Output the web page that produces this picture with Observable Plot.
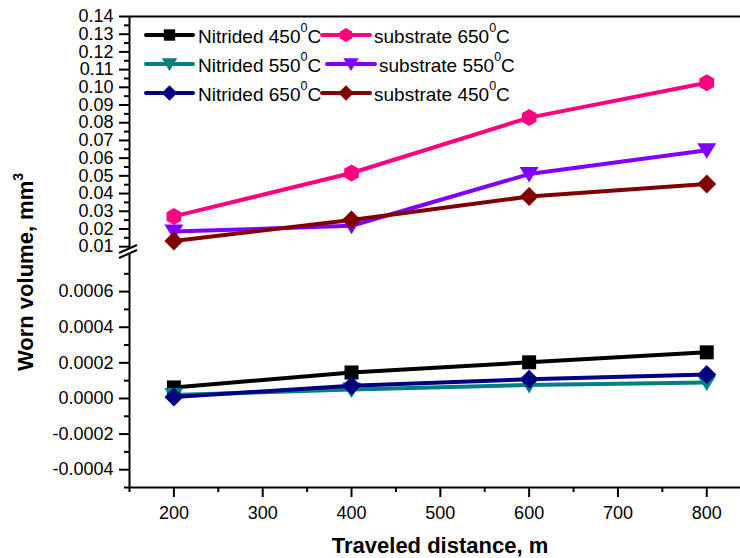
<!DOCTYPE html>
<html><head><meta charset="utf-8">
<script src="https://cdn.jsdelivr.net/npm/d3@7"></script>
<script src="https://cdn.jsdelivr.net/npm/@observablehq/plot@0.6"></script>
<style>
html,body{margin:0;padding:0;background:#fff;}
#chart{position:relative;width:740px;height:558px;overflow:hidden;font-family:"Liberation Sans",Arial,sans-serif;background:#fff;}
#chart svg{position:absolute;left:0;overflow:visible;}
</style></head><body><div id="chart"></div>
<script>
// ---- data ----
const distance = [200, 400, 600, 800];
const nitrided450 = [0.000062, 0.000146, 0.000203, 0.000259];
const nitrided550 = [0.000020, 0.000050, 0.000076, 0.000090];
const nitrided650 = [0.000008, 0.000072, 0.000108, 0.000135];
const substrate650 = [0.0271, 0.0516, 0.0829, 0.1026];
const substrate550 = [0.0185, 0.0218, 0.0510, 0.0645];
const substrate450 = [0.0132, 0.0250, 0.0383, 0.0454];
const seriesNames = ["Nitrided 450", "Nitrided 550", "Nitrided 650", "substrate 650", "substrate 550", "substrate 450"];
const xTicks = [200, 300, 400, 500, 600, 700, 800];
const xMinorTicks = [150, 250, 350, 450, 550, 650, 750];
const yTicksUpper = [0.01, 0.02, 0.03, 0.04, 0.05, 0.06, 0.07, 0.08, 0.09, 0.10, 0.11, 0.12, 0.13, 0.14];
const yMinorUpper = [0.015, 0.025, 0.035, 0.045, 0.055, 0.065, 0.075, 0.085, 0.095, 0.105, 0.115, 0.125, 0.135];
const yTicksLower = [-0.0004, -0.0002, 0, 0.0002, 0.0004, 0.0006];
const yMinorLower = [-0.0005, -0.0003, -0.0001, 0.0001, 0.0003, 0.0005, 0.0007];

// ---- symbols ----
function kOf(size){ return Math.sqrt(size/Math.PI)/8; }
const sym = {
  square: {draw(c,s){const k=kOf(s),h=7*k;c.moveTo(-h,-h);c.lineTo(h,-h);c.lineTo(h,h);c.lineTo(-h,h);c.closePath();}},
  triDown: {draw(c,s){const k=kOf(s);c.moveTo(-9.5*k,-7*k);c.lineTo(9.5*k,-7*k);c.lineTo(0,8.5*k);c.closePath();}},
  diamond: {draw(c,s){const k=kOf(s),h=9.5*k;c.moveTo(0,-h);c.lineTo(h,0);c.lineTo(0,h);c.lineTo(-h,0);c.closePath();}},
  hexagon: {draw(c,s){const k=kOf(s),r=8.5*k;for(let i=0;i<6;i++){const a=(-90+60*i)*Math.PI/180;const x=r*Math.cos(a),y=r*Math.sin(a);if(i===0)c.moveTo(x,y);else c.lineTo(x,y);}c.closePath();}}
};

const series = [
  {name: seriesNames[0], values: nitrided450, color: "#000000", symbol: sym.square},
  {name: seriesNames[1], values: nitrided550, color: "#008080", symbol: sym.triDown},
  {name: seriesNames[2], values: nitrided650, color: "#000080", symbol: sym.diamond},
  {name: seriesNames[3], values: substrate650, color: "#FF0080", symbol: sym.hexagon},
  {name: seriesNames[4], values: substrate550, color: "#8000FF", symbol: sym.triDown},
  {name: seriesNames[5], values: substrate450, color: "#800000", symbol: sym.diamond}
];
series.forEach(s => s.data = distance.map((d, i) => ({distance: d, volume: s.values[i]})));

const font = '"Liberation Sans", Arial, sans-serif';
const xDomain = [150, 838];
function seriesMarks(list){
  const m = [];
  list.forEach(s => {
    m.push(Plot.line(s.data, {x: "distance", y: "volume", stroke: s.color, strokeWidth: 4, strokeLinejoin: "round"}));
    m.push(Plot.dot(s.data, {x: "distance", y: "volume", fill: s.color, stroke: "none", r: 8, symbol: s.symbol}));
  });
  return m;
}

const chart = document.getElementById("chart");

// ---- upper panel ----
const upper = Plot.plot({
  width: 740, height: 249, marginLeft: 129, marginRight: 0, marginTop: 16, marginBottom: 0,
  style: {fontFamily: font, fontSize: "18px", color: "#000", background: "transparent", overflow: "visible"},
  x: {domain: xDomain, axis: null},
  y: {domain: [0.0084, 0.14], axis: null},
  marks: [
    Plot.axisY({ticks: yMinorUpper, tickSize: 5, tickFormat: () => "", strokeWidth: 2, label: null}),
    Plot.axisY({ticks: yTicksUpper, tickSize: 10, tickPadding: 6, tickFormat: d => d.toFixed(2), strokeWidth: 2, fontSize: 18, label: null}),
    Plot.ruleX([150], {strokeWidth: 2}),
    Plot.ruleY([0.14], {strokeWidth: 2}),
    ...seriesMarks(series.slice(3))
  ]
});
upper.style.top = "0px";
chart.appendChild(upper);

// ---- lower panel ----
const lower = Plot.plot({
  width: 740, height: 305, marginLeft: 129, marginRight: 0, marginTop: 0, marginBottom: 71,
  style: {fontFamily: font, fontSize: "18px", color: "#000", background: "transparent", overflow: "visible"},
  x: {domain: xDomain},
  y: {domain: [-0.0005, 0.000814]},
  marks: [
    Plot.axisY({ticks: yMinorLower, tickSize: 5, tickFormat: () => "", strokeWidth: 2, label: null}),
    Plot.axisY({ticks: yTicksLower, tickSize: 10, tickPadding: 6, tickFormat: d => d.toFixed(4), strokeWidth: 2, fontSize: 18, label: null}),
    Plot.axisX({ticks: xMinorTicks, tickSize: 5, tickFormat: () => "", strokeWidth: 2, label: null}),
    Plot.axisX({ticks: xTicks, tickSize: 10, tickPadding: 9, tickFormat: d => String(d), strokeWidth: 2, fontSize: 18, label: null}),
    Plot.ruleX([150], {strokeWidth: 2}),
    Plot.ruleY([-0.0005], {strokeWidth: 2}),
    ...seriesMarks(series.slice(0, 3))
  ]
});
lower.style.top = "253px";
chart.appendChild(lower);

// ---- overlay: titles, axis break, legend ----
const NS = "http://www.w3.org/2000/svg";
const ov = document.createElementNS(NS, "svg");
ov.setAttribute("width", 740); ov.setAttribute("height", 558);
ov.style.top = "0px";
ov.style.fontFamily = font;
chart.appendChild(ov);
function el(tag, attrs, parent){ const e = document.createElementNS(NS, tag); for (const k in attrs) e.setAttribute(k, attrs[k]); (parent||ov).appendChild(e); return e; }

// break marks
el("line", {x1: 119, y1: 253, x2: 137, y2: 245, stroke: "#000", "stroke-width": 2});
el("line", {x1: 119, y1: 258, x2: 137, y2: 250, stroke: "#000", "stroke-width": 2});

// axis titles
const xt = el("text", {x: 440, y: 553, "text-anchor": "middle", "font-weight": "bold", "font-size": 22, fill: "#000"});
xt.textContent = "Traveled distance, m";
const yt = el("text", {transform: "translate(33,272) rotate(-90)", "text-anchor": "middle", "font-weight": "bold", "font-size": 22, fill: "#000"});
yt.appendChild(document.createTextNode("Worn volume, mm"));
const ysup = el("tspan", {dy: -10, "font-size": 14}, yt); ysup.textContent = "3";

// legend
const legendPos = [
  {x1: 146, x2: 193, tx: 198, y: 35},
  {x1: 146, x2: 193, tx: 198, y: 64},
  {x1: 146, x2: 193, tx: 198, y: 93},
  {x1: 322, x2: 370, tx: 374, y: 35},
  {x1: 327, x2: 375, tx: 379, y: 64},
  {x1: 322, x2: 370, tx: 374, y: 93}
];
series.forEach((s, i) => {
  const p = legendPos[i];
  el("line", {x1: p.x1, y1: p.y, x2: p.x2, y2: p.y, stroke: s.color, "stroke-width": 4, "stroke-linecap": "round"});
  const path = d3.path(); s.symbol.draw(path, Math.PI * 6.5 * 6.5);
  el("path", {d: path.toString(), fill: s.color, transform: `translate(${(p.x1 + p.x2) / 2},${p.y})`});
  const t = el("text", {x: p.tx, y: p.y + 8, "font-size": 19, fill: "#000"});
  t.appendChild(document.createTextNode(s.name));
  const sp = el("tspan", {dy: -11, "font-size": 12.5}, t); sp.textContent = "0";
  const c = el("tspan", {dy: 11}, t); c.textContent = "C";
});
</script>
</body></html>
